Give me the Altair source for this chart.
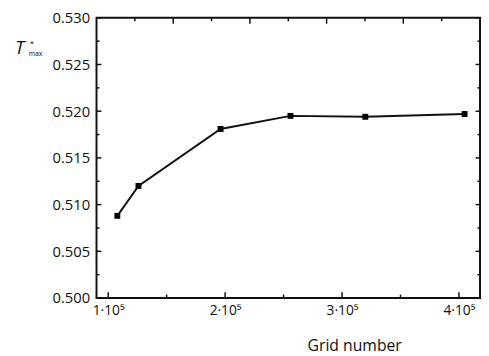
import altair as alt
import pandas as pd

# ---- data ----
grid = [107800, 125900, 196100, 255900, 319900, 404800]
tmax = [0.5088, 0.5120, 0.5181, 0.5195, 0.5194, 0.5197]

x_major = [100000, 200000, 300000, 400000]
x_minor = [150000, 250000, 350000]
y_major = [0.500, 0.505, 0.510, 0.515, 0.520, 0.525, 0.530]
y_minor = [0.5025, 0.5075, 0.5125, 0.5175, 0.5225, 0.5275]
# top frame carries its own (unlabelled) scale 0..5 with ticks every 0.5
top_major = [1.0, 2.0, 3.0, 4.0]
top_minor = [0.5, 1.5, 2.5, 3.5, 4.5]
TOP_DOMAIN = [0, 5]

X_DOMAIN = [90000, 418000]
Y_DOMAIN = [0.500, 0.530]
W, H = 390, 285
FONT = "Open Sans"
INK = "#111111"

xs = alt.Scale(domain=X_DOMAIN, nice=False, zero=False)
ys = alt.Scale(domain=Y_DOMAIN, nice=False, zero=False)

df = pd.DataFrame({"grid": grid, "tmax": tmax})

x_axis = alt.Axis(
    values=x_major, labelExpr="datum.value / 100000 + '·10⁵'",
    ticks=False, domain=False, grid=False, labelFlush=False, labelOverlap=False,
    labelFont=FONT, labelFontSize=14, labelColor=INK, labelPadding=6,
    title="Grid number", titleFont=FONT, titleFontSize=16, titleFontWeight="normal",
    titleColor=INK, titleX=262, titleY=48, titleBaseline="middle", titleAlign="center",
)
y_axis = alt.Axis(
    values=y_major, format=".3f",
    ticks=False, domain=False, grid=False, labelFlush=False, labelOverlap=False,
    labelFont=FONT, labelFontSize=15, labelColor=INK, labelPadding=7, title="",
)

X = lambda f: alt.X(f, scale=xs, axis=x_axis)
Y = lambda f: alt.Y(f, scale=ys, axis=y_axis)

line = alt.Chart(df).mark_line(color=INK, strokeWidth=2).encode(
    x=X("grid:Q"), y=Y("tmax:Q"),
)
pts = alt.Chart(df).mark_point(shape="square", filled=True, size=36, color="black", opacity=1).encode(
    x=X("grid:Q"), y=Y("tmax:Q"),
)

layers = [line, pts]


def vticks(vals, y0, y1):
    d = pd.DataFrame({"grid": vals})
    return alt.Chart(d).mark_rule(color=INK, strokeWidth=1.5).encode(
        x=X("grid:Q"), y=alt.value(y0), y2=alt.value(y1))


def hticks(vals, x0, x1):
    d = pd.DataFrame({"tmax": vals})
    return alt.Chart(d).mark_rule(color=INK, strokeWidth=1.5).encode(
        y=Y("tmax:Q"), x=alt.value(x0), x2=alt.value(x1))


# convert top-frame ticks into the x domain
top_to_x = lambda t: X_DOMAIN[0] + (t - TOP_DOMAIN[0]) / (TOP_DOMAIN[1] - TOP_DOMAIN[0]) * (X_DOMAIN[1] - X_DOMAIN[0])

layers += [
    vticks(x_major, H, H - 6),
    vticks(x_minor, H, H - 3.5),
    vticks([top_to_x(t) for t in top_major], 0, 6),
    vticks([top_to_x(t) for t in top_minor], 0, 3.5),
    hticks(y_major, 0, 5),
    hticks(y_minor, 0, 3),
    hticks(y_major, W, W - 4.5),
    hticks(y_minor, W, W - 2.5),
]

one = pd.DataFrame({"a": [0]})
layers += [
    alt.Chart(one).mark_text(text="T", font=FONT, fontSize=19, fontStyle="italic",
                             align="left", baseline="alphabetic", fill=INK)
    .encode(x=alt.value(-83), y=alt.value(37)),
    alt.Chart(one).mark_text(text="*", font=FONT, fontSize=8,
                             align="left", baseline="alphabetic", fill=INK)
    .encode(x=alt.value(-68), y=alt.value(29)),
    alt.Chart(one).mark_text(text="max", font=FONT, fontSize=7,
                             align="left", baseline="alphabetic", fill=INK)
    .encode(x=alt.value(-69), y=alt.value(39)),
]

chart = alt.layer(*layers).properties(
    width=W, height=H,
    autosize=alt.AutoSizeParams(type="none"),
    padding={"left": 90, "top": 7, "right": 1, "bottom": 56},
).configure_view(stroke=INK, strokeWidth=2)

chart.save("out.html", embed_options={"renderer": "svg", "actions": False})
